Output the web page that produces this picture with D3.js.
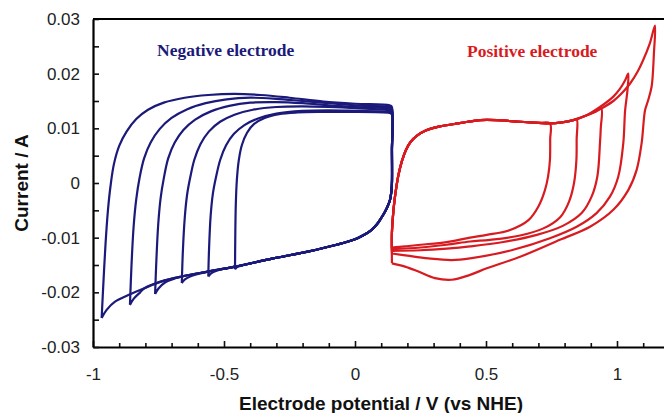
<!DOCTYPE html>
<html>
<head>
<meta charset="utf-8">
<script src="https://cdn.jsdelivr.net/npm/d3@7"></script>
<style>
  body { margin: 0; background: #fff; }
</style>
</head>
<body>
<svg id="chart" width="664" height="413"></svg>
<script>
// tick values
var xTicks = [-1, -0.5, 0, 0.5, 1];
var xMinor = [-0.9, -0.8, -0.7, -0.6, -0.4, -0.3, -0.2, -0.1, 0.1, 0.2, 0.3, 0.4, 0.6, 0.7, 0.8, 0.9, 1.1];
var yTicks = [-0.03, -0.02, -0.01, 0, 0.01, 0.02, 0.03];
var yMinor = [-0.025, -0.015, -0.005, 0.005, 0.015, 0.025];

// negative electrode: positive sweep of each cycle, from lower vertex to 0.14 V
var negTop1 = [[-0.967, -0.0247], [-0.960, -0.0180], [-0.952, -0.0110], [-0.943, -0.0050], [-0.933, -0.0005], [-0.920, 0.0035],
  [-0.900, 0.0068], [-0.872, 0.0094], [-0.835, 0.0117], [-0.790, 0.0134], [-0.730, 0.0147], [-0.650, 0.0156], [-0.560, 0.0161],
  [-0.460, 0.0163], [-0.360, 0.0161], [-0.250, 0.0156], [-0.120, 0.0149], [0.000, 0.0145], [0.132, 0.0142], [0.140, 0.0140]];
var negTop2 = [[-0.859, -0.0223], [-0.853, -0.0150], [-0.845, -0.0080], [-0.835, -0.0030], [-0.822, 0.0010], [-0.805, 0.0045],
  [-0.780, 0.0074], [-0.745, 0.0099], [-0.700, 0.0119], [-0.640, 0.0135], [-0.570, 0.0146], [-0.490, 0.0153], [-0.400, 0.0156],
  [-0.300, 0.0154], [-0.200, 0.0150], [-0.100, 0.0146], [0.000, 0.0142], [0.132, 0.0139], [0.140, 0.0137]];
var negTop3 = [[-0.763, -0.0203], [-0.758, -0.0140], [-0.751, -0.0075], [-0.742, -0.0028], [-0.730, 0.0008], [-0.713, 0.0045],
  [-0.688, 0.0074], [-0.655, 0.0097], [-0.610, 0.0116], [-0.550, 0.0131], [-0.480, 0.0141], [-0.400, 0.0147], [-0.300, 0.0148],
  [-0.200, 0.0146], [-0.100, 0.0142], [0.000, 0.0139], [0.132, 0.0136], [0.140, 0.0134]];
var negTop4 = [[-0.661, -0.0183], [-0.657, -0.0125], [-0.650, -0.0065], [-0.641, -0.0022], [-0.629, 0.0010], [-0.613, 0.0043],
  [-0.590, 0.0071], [-0.558, 0.0094], [-0.515, 0.0112], [-0.460, 0.0125], [-0.390, 0.0134], [-0.300, 0.0139], [-0.200, 0.0140],
  [-0.100, 0.0139], [0.000, 0.0137], [0.132, 0.0133], [0.140, 0.0131]];
var negTop5 = [[-0.560, -0.0171], [-0.557, -0.0120], [-0.551, -0.0060], [-0.542, -0.0018], [-0.530, 0.0012], [-0.514, 0.0043],
  [-0.492, 0.0069], [-0.462, 0.0090], [-0.422, 0.0106], [-0.370, 0.0118], [-0.300, 0.0127], [-0.200, 0.0132], [-0.100, 0.0133],
  [0.000, 0.0132], [0.132, 0.0130], [0.140, 0.0128]];
var negTop6 = [[-0.458, -0.0158], [-0.457, -0.0100], [-0.455, -0.0040], [-0.451, 0.0005], [-0.444, 0.0040], [-0.432, 0.0069],
  [-0.412, 0.0092], [-0.385, 0.0108], [-0.345, 0.0119], [-0.290, 0.0126], [-0.220, 0.0129], [-0.130, 0.0130], [-0.030, 0.0130],
  [0.132, 0.0128], [0.140, 0.0126]];
// shared negative sweep, from 0.14 V downwards
var negBottom = [[0.141, 0.0060], [0.141, 0.0000], [0.139, -0.0015], [0.134, -0.0030], [0.125, -0.0042], [0.115, -0.0052],
  [0.100, -0.0064], [0.083, -0.0076], [0.060, -0.0087], [0.030, -0.0096], [0.000, -0.0103], [-0.070, -0.0113], [-0.185, -0.0126],
  [-0.312, -0.0138], [-0.458, -0.0153], [-0.561, -0.0162], [-0.661, -0.0171], [-0.738, -0.0180], [-0.802, -0.0192],
  [-0.865, -0.0205], [-0.916, -0.0217]];
// end of each cycle's negative sweep, into its lower vertex
var negHook1 = [[-0.948, -0.0232], [-0.967, -0.0247]];
var negHook2 = [[-0.820, -0.0200], [-0.845, -0.0212], [-0.859, -0.0223]];
var negHook3 = [[-0.725, -0.0182], [-0.750, -0.0193], [-0.763, -0.0203]];
var negHook4 = [[-0.625, -0.0170], [-0.648, -0.0176], [-0.661, -0.0183]];
var negHook5 = [[-0.525, -0.0160], [-0.548, -0.0165], [-0.560, -0.0171]];
var negHook6 = [[-0.430, -0.0151], [-0.450, -0.0154], [-0.458, -0.0158]];

// positive electrode: shared positive sweep from 0.14 V
var posTop = [[0.141, -0.0090], [0.145, -0.0060], [0.150, -0.0035], [0.157, -0.0010], [0.166, 0.0015], [0.179, 0.0040],
  [0.194, 0.0060], [0.212, 0.0075], [0.238, 0.0087], [0.270, 0.0096], [0.320, 0.0103], [0.380, 0.0108], [0.430, 0.0112],
  [0.477, 0.0115], [0.541, 0.0115], [0.630, 0.0112], [0.700, 0.0110], [0.744, 0.0109], [0.790, 0.0111], [0.833, 0.0115],
  [0.880, 0.0123], [0.935, 0.0135], [0.986, 0.0150], [1.020, 0.0165], [1.050, 0.0182], [1.080, 0.0205], [1.100, 0.0225],
  [1.125, 0.0255], [1.145, 0.0288]];
// upper end of each cycle's positive sweep
var posTip1 = [[0.744, 0.0109]];
var posTip2 = [[0.790, 0.0111], [0.833, 0.0115], [0.846, 0.0117]];
var posTip3 = [[0.880, 0.0123], [0.920, 0.0131], [0.940, 0.0136]];
var posTip4 = [[0.935, 0.0139], [0.986, 0.0158], [1.011, 0.0172], [1.030, 0.0187], [1.043, 0.0200]];
var posTip5 = [[1.145, 0.0288]];
// negative sweep of each cycle, back to 0.14 V
var posBottom1 = [[0.745, 0.0080], [0.744, 0.0042], [0.737, 0.0012], [0.725, -0.0013], [0.700, -0.0043], [0.662, -0.0068],
  [0.592, -0.0086], [0.503, -0.0095], [0.439, -0.0100], [0.350, -0.0108], [0.250, -0.0113], [0.190, -0.0116], [0.141, -0.0118]];
var posBottom2 = [[0.846, 0.0080], [0.845, 0.0042], [0.836, 0.0000], [0.817, -0.0034], [0.784, -0.0062], [0.719, -0.0083],
  [0.630, -0.0096], [0.515, -0.0104], [0.439, -0.0107], [0.350, -0.0113], [0.250, -0.0118], [0.141, -0.0121]];
var posBottom3 = [[0.938, 0.0100], [0.935, 0.0073], [0.925, 0.0012], [0.903, -0.0025], [0.865, -0.0055], [0.795, -0.0078],
  [0.694, -0.0095], [0.566, -0.0108], [0.439, -0.0116], [0.350, -0.0120], [0.250, -0.0123], [0.141, -0.0124]];
var posBottom4 = [[1.040, 0.0170], [1.031, 0.0133], [1.024, 0.0073], [1.005, 0.0012], [0.973, -0.0025], [0.922, -0.0055],
  [0.846, -0.0080], [0.744, -0.0101], [0.604, -0.0122], [0.439, -0.0138], [0.369, -0.0141], [0.280, -0.0138], [0.200, -0.0133],
  [0.141, -0.0129]];
var posBottom5 = [[1.141, 0.0238], [1.132, 0.0176], [1.118, 0.0150], [1.107, 0.0133], [1.094, 0.0073], [1.075, 0.0024],
  [1.043, -0.0013], [0.986, -0.0049], [0.897, -0.0080], [0.782, -0.0104], [0.630, -0.0135], [0.503, -0.0156], [0.439, -0.0168],
  [0.369, -0.0177], [0.305, -0.0174], [0.242, -0.0162], [0.191, -0.0153], [0.141, -0.0147]];

var negColor = "#1b1a7a";
var posColor = "#d81b20";
var sans = "'Liberation Sans', Arial, sans-serif";
var serif = "'Liberation Serif', 'Times New Roman', serif";

var svg = d3.select("#chart");
var x = d3.scaleLinear().domain([-1, 1.2]).range([93, 669.4]);
var y = d3.scaleLinear().domain([-0.03, 0.03]).range([347, 19]);

var line = d3.line()
    .x(function (d) { return x(d[0]); })
    .y(function (d) { return y(d[1]); })
    .curve(d3.curveCatmullRom.alpha(0.5));

// build the loops
var negLoops = [[negTop1, negHook1], [negTop2, negHook2], [negTop3, negHook3],
                [negTop4, negHook4], [negTop5, negHook5], [negTop6, negHook6]].map(function (c) {
    var hook = c[1];
    var bottom = negBottom.filter(function (p) { return p[0] > hook[0][0]; });
    return c[0].concat(bottom, hook);
});
var posLoops = [[posTip1, posBottom1], [posTip2, posBottom2], [posTip3, posBottom3],
                [posTip4, posBottom4], [posTip5, posBottom5]].map(function (c) {
    var tip = c[0], bottom = c[1];
    var top = posTop.filter(function (p) { return p[0] < tip[0][0]; });
    return [bottom[bottom.length - 1]].concat(top, tip, bottom);
});

svg.selectAll("path.neg")
    .data(negLoops)
    .enter()
    .append("path")
    .attr("class", "neg")
    .attr("d", line)
    .attr("fill", "none")
    .attr("stroke", negColor)
    .attr("stroke-width", 2.2)
    .attr("stroke-linejoin", "round");

svg.selectAll("path.pos")
    .data(posLoops)
    .enter()
    .append("path")
    .attr("class", "pos")
    .attr("d", line)
    .attr("fill", "none")
    .attr("stroke", posColor)
    .attr("stroke-width", 2.2)
    .attr("stroke-linejoin", "round");

// axes, ticks point inwards
var x0 = x(-1), y0 = y(-0.03);
svg.append("g")
    .attr("transform", "translate(0," + y0 + ")")
    .call(d3.axisBottom(x).tickValues(xMinor).tickSize(-4).tickFormat(""))
    .call(function (g) { g.select(".domain").remove(); });
svg.append("g")
    .attr("transform", "translate(" + x0 + ",0)")
    .call(d3.axisLeft(y).tickValues(yMinor).tickSize(-6).tickFormat(""))
    .call(function (g) { g.select(".domain").remove(); });

var xAxis = svg.append("g")
    .attr("transform", "translate(0," + y0 + ")")
    .call(d3.axisBottom(x).tickValues(xTicks).tickSize(-6).tickSizeOuter(0).tickPadding(21)
        .tickFormat(function (d) { return String(d); }));
var yAxis = svg.append("g")
    .attr("transform", "translate(" + x0 + ",0)")
    .call(d3.axisLeft(y).tickValues(yTicks).tickSize(-6).tickSizeOuter(0).tickPadding(13)
        .tickFormat(function (d) { return d === 0 ? "0" : d.toFixed(2); }));

svg.selectAll(".tick line").attr("stroke", "#111").attr("stroke-width", 1.6);
svg.selectAll(".tick text")
    .style("font-family", sans)
    .style("font-size", "17px")
    .attr("fill", "#222");
xAxis.select(".domain").attr("stroke", "#000").attr("stroke-width", 2.2);
yAxis.select(".domain").attr("stroke", "#000").attr("stroke-width", 2.2);

// top frame
svg.append("line")
    .attr("x1", x0).attr("x2", x(1.2))
    .attr("y1", y(0.03)).attr("y2", y(0.03))
    .attr("stroke", "#000").attr("stroke-width", 2.2);

// axis titles
svg.append("text")
    .attr("x", 381).attr("y", 410)
    .attr("text-anchor", "middle")
    .style("font-family", sans).style("font-size", "19px").style("font-weight", "bold")
    .attr("fill", "#111")
    .text("Electrode potential / V (vs NHE)");
svg.append("text")
    .attr("transform", "translate(28,183) rotate(-90)")
    .attr("text-anchor", "middle")
    .style("font-family", sans).style("font-size", "19px").style("font-weight", "bold")
    .attr("fill", "#111")
    .text("Current / A");

// labels
svg.append("text")
    .attr("x", 157).attr("y", 56)
    .style("font-family", serif).style("font-size", "17.5px").style("font-weight", "bold")
    .attr("fill", negColor)
    .text("Negative electrode");
svg.append("text")
    .attr("x", 467).attr("y", 57)
    .style("font-family", serif).style("font-size", "17.5px").style("font-weight", "bold")
    .attr("fill", posColor)
    .text("Positive electrode");
</script>
</body>
</html>
